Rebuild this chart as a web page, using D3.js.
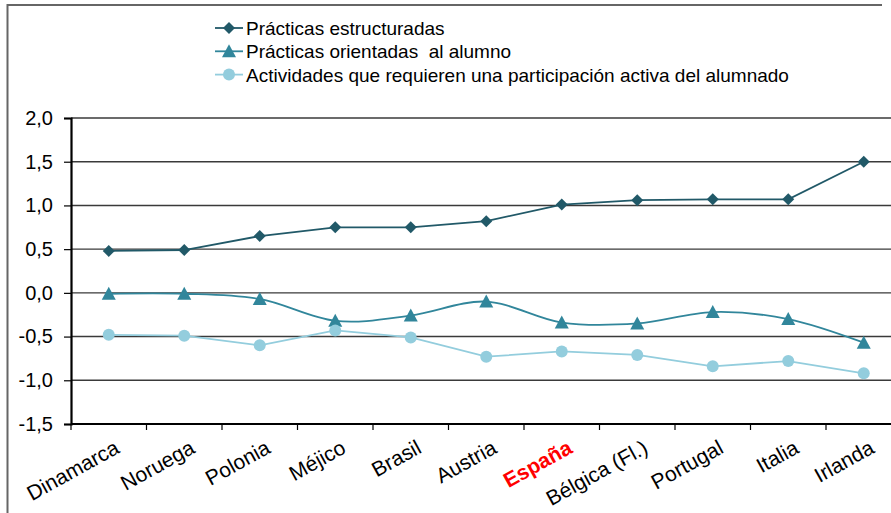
<!DOCTYPE html>
<html>
<head>
<meta charset="utf-8">
<script src="https://cdn.jsdelivr.net/npm/d3@7"></script>
<style>
  body { margin: 0; background: #fff; }
  svg { display: block; font-family: "Liberation Sans", Arial, sans-serif; }
  .legend-text { white-space: pre; }
</style>
</head>
<body>
<div id="chart"></div>
<script>
// data
var countries = ["Dinamarca", "Noruega", "Polonia", "Méjico", "Brasil", "Austria",
  "España", "Bélgica (Fl.)", "Portugal", "Italia", "Irlanda"];
var estructuradas = [0.48, 0.49, 0.65, 0.75, 0.75, 0.82, 1.01, 1.06, 1.07, 1.07, 1.50];
var orientadas = [-0.01, -0.01, -0.07, -0.32, -0.26, -0.10, -0.34, -0.35, -0.22, -0.30, -0.57];
var activas = [-0.48, -0.49, -0.60, -0.43, -0.51, -0.73, -0.67, -0.71, -0.84, -0.78, -0.92];
var yTicks = [-1.5, -1.0, -0.5, 0.0, 0.5, 1.0, 1.5, 2.0];
var highlight = "España";

var seriesNames = ["Prácticas estructuradas", "Prácticas orientadas  al alumno",
  "Actividades que requieren una participación activa del alumnado"];

var svgWidth = 891;
var svgHeight = 513;

var margin = { top: 118, left: 71, bottom: 89 };
var plotBottom = svgHeight - margin.bottom;
var band = 75.5;

var svg = d3.select("#chart")
  .append("svg")
  .attr("width", svgWidth)
  .attr("height", svgHeight);

// outer frame (only top and left edges are in view)
svg.append("path")
  .attr("d", "M7.5,513 L7.5,5 L882,5")
  .attr("fill", "none")
  .attr("stroke", "#666")
  .attr("stroke-width", 2);

var x = d3.scaleBand()
  .domain(countries)
  .range([margin.left, margin.left + band * countries.length])
  .padding(0);

var y = d3.scaleLinear()
  .domain([-1.5, 2])
  .range([plotBottom, margin.top]);

var fmt = function(d) { return d3.format(".1f")(d).replace(".", ",").replace("−", "-"); };

// horizontal gridlines
svg.append("g")
  .selectAll("line")
  .data(yTicks.filter(function(d) { return d > -1.5; }))
  .enter()
  .append("line")
  .attr("x1", margin.left)
  .attr("x2", svgWidth)
  .attr("y1", function(d) { return y(d); })
  .attr("y2", function(d) { return y(d); })
  .attr("stroke", "#3a3a3a")
  .attr("stroke-width", 1.4);

// y axis
var yAxis = svg.append("g")
  .attr("transform", "translate(" + margin.left + ",0)")
  .call(d3.axisLeft(y).tickValues(yTicks).tickFormat(fmt).tickSize(7).tickPadding(11));
yAxis.select(".domain").attr("stroke", "#000").attr("stroke-width", 2.2);
yAxis.selectAll(".tick line").attr("stroke", "#000").attr("stroke-width", 1.2);
yAxis.selectAll(".tick text")
  .attr("font-size", "20px")
  .attr("font-family", "Liberation Sans, Arial, sans-serif")
  .attr("fill", "#000");

// x axis with ticks between categories
var xAxisG = svg.append("g")
  .attr("transform", "translate(0," + plotBottom + ")");
xAxisG.append("line")
  .attr("x1", margin.left)
  .attr("x2", svgWidth)
  .attr("stroke", "#000")
  .attr("stroke-width", 2.2);
xAxisG.selectAll(".tk")
  .data(countries)
  .enter()
  .append("line")
  .attr("class", "tk")
  .attr("x1", function(d) { return x(d); })
  .attr("x2", function(d) { return x(d); })
  .attr("y1", 0)
  .attr("y2", 6)
  .attr("stroke", "#000")
  .attr("stroke-width", 1.2);

xAxisG.selectAll(".lbl")
  .data(countries)
  .enter()
  .append("text")
  .attr("class", "lbl")
  .attr("text-anchor", "end")
  .attr("transform", function(d) {
    return "translate(" + (x(d) + x.bandwidth() / 2 + 12) + ",28) rotate(-29)";
  })
  .attr("font-size", "21px")
  .attr("font-weight", function(d) { return d === highlight ? "bold" : "normal"; })
  .attr("fill", function(d) { return d === highlight ? "#ff0000" : "#000"; })
  .text(function(d) { return d; });

// series
var series = [
  { name: seriesNames[0], values: estructuradas, color: "#215968", marker: "diamond", curve: d3.curveLinear },
  { name: seriesNames[1], values: orientadas, color: "#31869b", marker: "triangle", curve: d3.curveCardinal.tension(0) },
  { name: seriesNames[2], values: activas, color: "#93cddd", marker: "circle", curve: d3.curveLinear }
];

function drawMarker(g, type, color) {
  if (type === "diamond") {
    g.append("path").attr("d", "M0,-6 L6,0 L0,6 L-6,0 Z").attr("fill", color);
  } else if (type === "triangle") {
    g.append("path").attr("d", "M0,-7 L7,6 L-7,6 Z").attr("fill", color);
  } else {
    g.append("circle").attr("r", 6).attr("fill", color);
  }
}

series.forEach(function(s) {
  var cx = function(d, i) { return x(countries[i]) + x.bandwidth() / 2; };
  var line = d3.line()
    .x(cx)
    .y(function(d) { return y(d); })
    .curve(s.curve);

  svg.append("path")
    .datum(s.values)
    .attr("d", line)
    .attr("fill", "none")
    .attr("stroke", s.color)
    .attr("stroke-width", 1.8);

  svg.append("g")
    .selectAll("g")
    .data(s.values)
    .enter()
    .append("g")
    .attr("transform", function(d, i) { return "translate(" + cx(d, i) + "," + y(d) + ")"; })
    .each(function() { drawMarker(d3.select(this), s.marker, s.color); });
});

// legend
var legend = svg.append("g").attr("transform", "translate(215,0)");
series.forEach(function(s, i) {
  var row = legend.append("g").attr("transform", "translate(0," + (28 + i * 23.3) + ")");
  row.append("line")
    .attr("x1", 0).attr("x2", 28)
    .attr("stroke", s.color)
    .attr("stroke-width", 1.8);
  drawMarker(row.append("g").attr("transform", "translate(14,0)"), s.marker, s.color);
  row.append("text")
    .attr("class", "legend-text")
    .attr("x", 31)
    .attr("y", 7)
    .attr("font-size", "19px")
    .attr("fill", "#000")
    .text(s.name);
});
</script>
</body>
</html>
